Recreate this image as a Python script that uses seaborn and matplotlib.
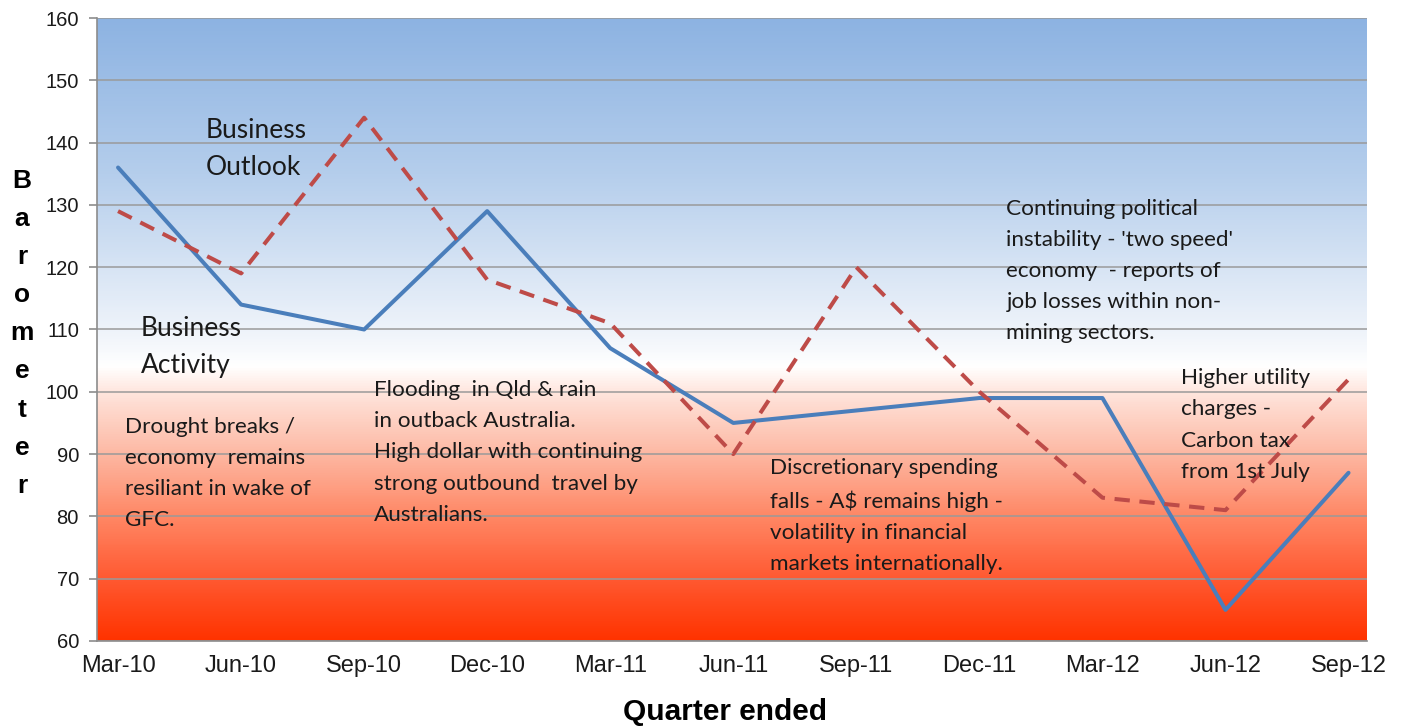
import numpy as np
import pandas as pd
import matplotlib
matplotlib.use("Agg")
import matplotlib.pyplot as plt
from matplotlib.colors import LinearSegmentedColormap
import seaborn as sns

# Quarterly barometer readings
quarters = ["Mar-10", "Jun-10", "Sep-10", "Dec-10", "Mar-11", "Jun-11",
            "Sep-11", "Dec-11", "Mar-12", "Jun-12", "Sep-12"]
business_activity = [136, 114, 110, 129, 107, 95, 97, 99, 99, 65, 87]
business_outlook = [129, 119, 144, 118, 111, 90, 120, 100, 83, 81, 102]
y_ticks = list(range(60, 161, 10))

series_names = ["Business Activity", "Business Outlook"]
series_colors = {"Business Activity": "#4A7EBB", "Business Outlook": "#BE4B48"}

sns.set_style("white")
plt.rcParams["font.family"] = ["Liberation Sans", "DejaVu Sans"]

W, H = 1405, 727
fig = plt.figure(figsize=(W / 100, H / 100), dpi=100)
ax = fig.add_axes([97 / W, 1 - 641 / H, (1367 - 97) / W, (641 - 18) / H])

pos = np.arange(len(quarters))
x_lo, x_hi = -0.171, 10.15
tick_shift = -0.171

# Vertical blue-white-red background fill of the plot area
stops = [(60, "#FF3300"), (70, "#FF5A32"), (80, "#FF8866"), (90, "#FDB8A3"),
         (100, "#FFE6DE"), (104, "#FFFFFF"), (110, "#EEF3FA"),
         (135, "#B5CEEC"), (160, "#8DB3E2")]
cmap = LinearSegmentedColormap.from_list(
    "barometer", [((v - 60) / 100, c) for v, c in stops])
grad = np.linspace(1, 0, 500).reshape(-1, 1)
ax.imshow(grad, cmap=cmap, vmin=0, vmax=1, extent=[x_lo, x_hi, 60, 160],
          aspect="auto", zorder=0, interpolation="bilinear")

df = pd.DataFrame({
    "pos": np.concatenate([pos, pos]),
    "value": business_activity + business_outlook,
    "series": [series_names[0]] * len(pos) + [series_names[1]] * len(pos),
})
sns.lineplot(data=df, x="pos", y="value", hue="series", style="series",
             palette=series_colors,
             dashes={"Business Activity": "", "Business Outlook": (3.8, 2.4)},
             legend=False, ax=ax, zorder=3)
for line in ax.get_lines():
    line.set_linewidth(2.9)

ax.set_xlim(x_lo, x_hi)
ax.set_ylim(60, 160)
ax.set_xlabel("")
ax.set_ylabel("")

ax.set_axisbelow(True)
ax.yaxis.grid(True, color="#9A9A9A", linewidth=1.1)
ax.xaxis.grid(False)

ax.set_xticks(pos)
ax.set_xticklabels(quarters, fontsize=17, color="#1a1a1a")
ax.set_xticks(pos + tick_shift, minor=True)
ax.tick_params(axis="x", which="major", length=0, pad=10)
ax.tick_params(axis="x", which="minor", length=5, width=1.2, color="#8c8c8c")
ax.set_yticks(y_ticks)
ax.set_yticklabels([str(v) for v in y_ticks], fontsize=14.5, color="#1a1a1a")
ax.tick_params(axis="y", length=6, width=1.2, color="#8c8c8c", pad=7, left=True)

for side in ["top", "right"]:
    ax.spines[side].set_visible(False)
for side in ["left", "bottom"]:
    ax.spines[side].set_color("#8c8c8c")
    ax.spines[side].set_linewidth(1.2)

# Axis titles
fig.text(725 / W, 1 - 720 / H, "Quarter ended", ha="center", va="baseline",
         fontsize=21.5, fontweight="bold", color="#000000")
for i, ch in enumerate("Barometer"):
    fig.text(22 / W, 1 - (188 + 38.1 * i) / H, ch, ha="center", va="baseline",
             fontsize=19, fontweight="bold", color="#000000")

# Series labels and commentary
note_font = ["Lato", "DejaVu Sans"]
ink = "#1a1a1a"
ax.text(0.715, 143.9, "Business\nOutlook", ha="left", va="top", fontsize=19,
        family=note_font, color=ink, linespacing=1.59, zorder=4)
ax.text(0.187, 112.1, "Business\nActivity", ha="left", va="top", fontsize=19,
        family=note_font, color=ink, linespacing=1.59, zorder=4)

notes = [
    (0.057, 96.0, "Drought breaks /\neconomy  remains\nresiliant in wake of\nGFC."),
    (2.081, 101.9, "Flooding  in Qld & rain\nin outback Australia.\n"
                   "High dollar with continuing\nstrong outbound  travel by\nAustralians."),
    (5.30, 89.4, "Discretionary spending\nfalls - A$ remains high -\n"
                 "volatility in financial\nmarkets internationally."),
    (7.22, 131.0, "Continuing political\ninstability - 'two speed'\n"
                  "economy  - reports of\njob losses within non-\nmining sectors."),
    (8.64, 103.8, "Higher utility\ncharges -\nCarbon tax\nfrom 1st July"),
]
for x, y, txt in notes:
    ax.text(x, y, txt, ha="left", va="top", fontsize=16.2, family=note_font,
            color=ink, linespacing=1.7, zorder=4, parse_math=False)

fig.savefig("out.png", dpi=100)
